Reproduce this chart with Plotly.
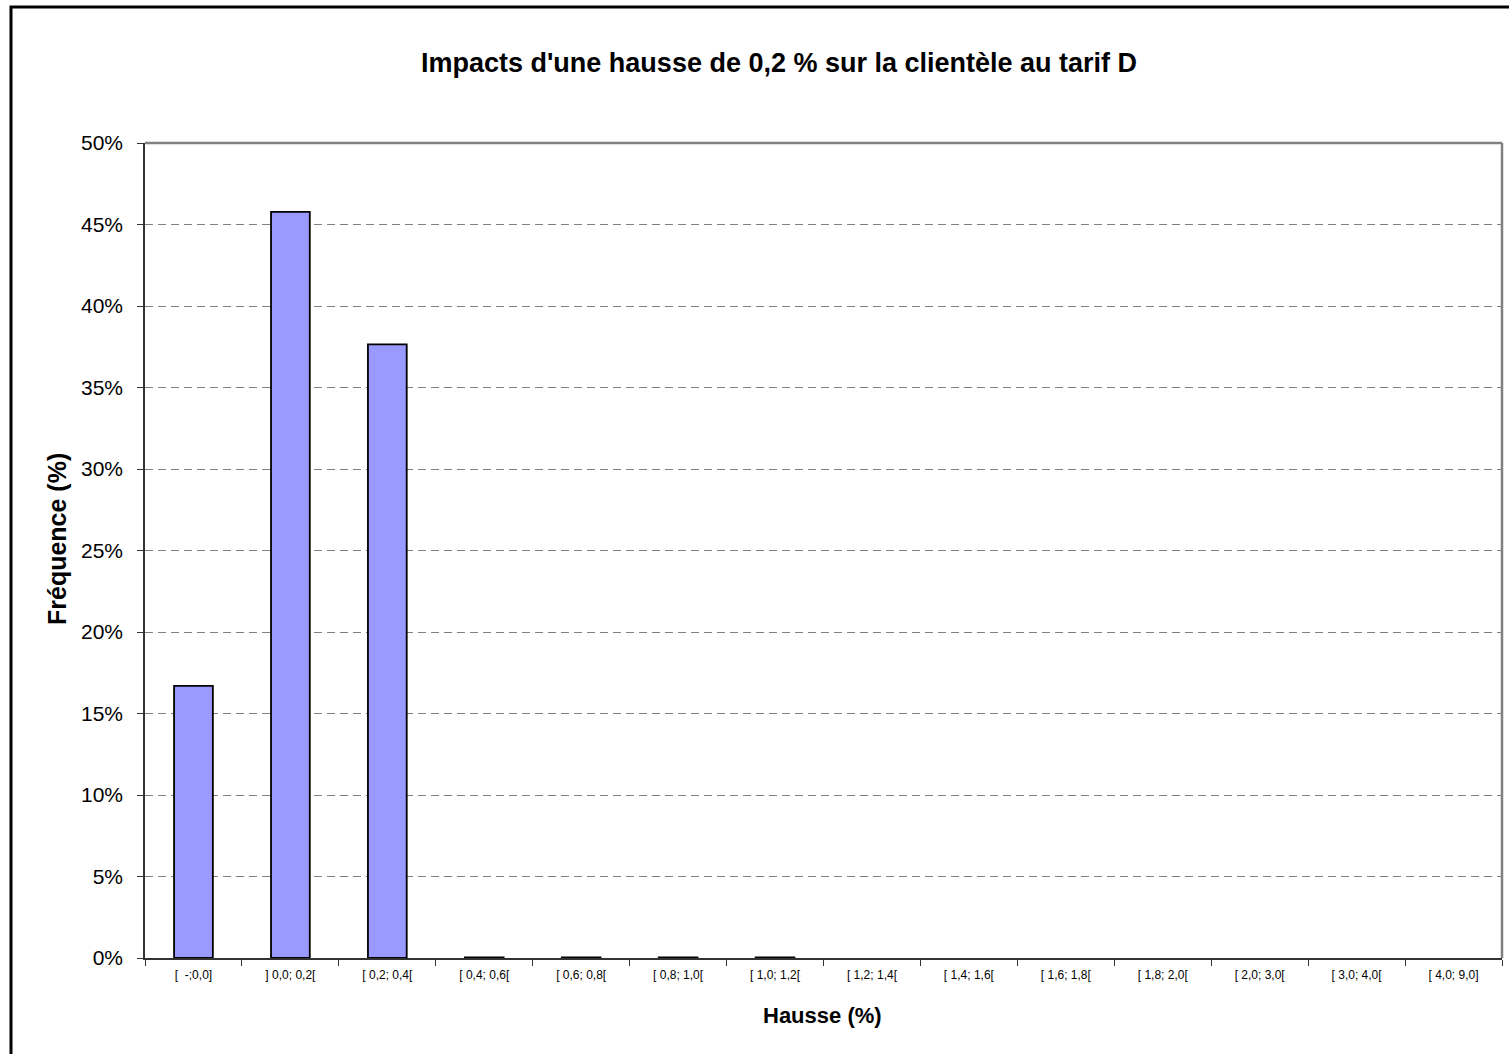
import plotly.graph_objects as go

# Distribution of the tariff increase across customers (tarif D)
categories = [
    "[  -;0,0]", "] 0,0; 0,2[", "[ 0,2; 0,4[", "[ 0,4; 0,6[", "[ 0,6; 0,8[",
    "[ 0,8; 1,0[", "[ 1,0; 1,2[", "[ 1,2; 1,4[", "[ 1,4; 1,6[", "[ 1,6; 1,8[",
    "[ 1,8; 2,0[", "[ 2,0; 3,0[", "[ 3,0; 4,0[", "[ 4,0; 9,0]",
]
frequency_pct = [16.7, 45.77, 37.65, 0.03, 0.03, 0.03, 0.03, 0, 0, 0, 0, 0, 0, 0]
y_ticks = [0, 5, 10, 15, 20, 25, 30, 35, 40, 45, 50]
y_tick_labels = [f"{v}%" for v in y_ticks]

W, H = 1509, 1054
L, R, T, B = 145, 7, 143, 96
plot_w = W - L - R
plot_h = H - T - B


def px_x(p):
    return (p - L) / plot_w


def px_y(p):
    return (H - B - p) / plot_h


FONT = "Liberation Sans, Arial, sans-serif"

# Empty classes get no outline, so nothing is drawn for them
outline_widths = [1.8 if v > 0 else 0 for v in frequency_pct]

fig = go.Figure(
    go.Bar(
        x=categories,
        y=frequency_pct,
        marker=dict(color="#9999FF", line=dict(color="#000000", width=outline_widths)),
        width=0.4,
    )
)

fig.update_layout(
    width=W,
    height=H,
    margin=dict(l=L, r=R, t=T, b=B, pad=0),
    paper_bgcolor="white",
    plot_bgcolor="white",
    showlegend=False,
    font=dict(family=FONT, color="#000000"),
    title=dict(
        text="<b>Impacts d'une hausse de 0,2 % sur la clientèle au tarif D</b>",
        font=dict(family=FONT, size=27, color="#000000"),
        x=779 / W,
        xanchor="center",
        y=1 - 63 / H,
        yanchor="middle",
    ),
    bargap=0.6,
)

fig.update_xaxes(
    type="category",
    showgrid=False,
    showline=True,
    linecolor="#333333",
    linewidth=1.5,
    ticks="outside",
    tickson="boundaries",
    ticklen=6,
    tickcolor="#333333",
    tickwidth=1,
    ticklabelstandoff=5,
    tickfont=dict(family=FONT, size=12, color="#000000"),
)

fig.update_yaxes(
    range=[0, 50],
    tickvals=y_ticks,
    ticktext=y_tick_labels,
    showgrid=True,
    gridcolor="#808080",
    griddash="8px,5px",
    gridwidth=1,
    zeroline=False,
    showline=True,
    linecolor="#333333",
    linewidth=1.5,
    ticks="outside",
    ticklen=6,
    tickcolor="#333333",
    ticklabelstandoff=10,
    tickfont=dict(family=FONT, size=21, color="#000000"),
)

# Axis titles
fig.add_annotation(
    text="<b>Hausse (%)</b>", xref="paper", yref="paper",
    x=px_x(822), y=px_y(1015), xanchor="center", yanchor="middle",
    showarrow=False, font=dict(family=FONT, size=22, color="#000000"),
)
fig.add_annotation(
    text="<b>Fréquence (%)</b>", xref="paper", yref="paper",
    x=px_x(57), y=px_y(539), xanchor="center", yanchor="middle",
    textangle=-90, showarrow=False,
    font=dict(family=FONT, size=25, color="#000000"),
)

# Plot area frame (top and right edges in grey)
fig.add_shape(
    type="line", xref="paper", yref="paper",
    x0=0, x1=1, y0=1, y1=1,
    line=dict(color="#808080", width=2.5),
)
fig.add_shape(
    type="line", xref="paper", yref="paper",
    x0=1, x1=1, y0=0, y1=1,
    line=dict(color="#808080", width=2.5),
)

# Chart area border
fig.add_shape(
    type="rect", xref="paper", yref="paper",
    x0=px_x(11), x1=px_x(W + 20), y0=px_y(H + 20), y1=px_y(7),
    line=dict(color="#000000", width=3),
    fillcolor="rgba(0,0,0,0)",
)

fig.write_html("out.html")
